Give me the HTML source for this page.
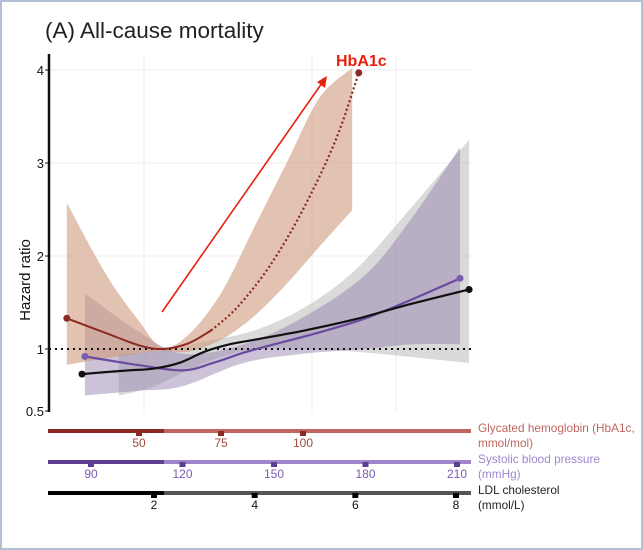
<!DOCTYPE html>
<html><head><meta charset="utf-8"><style>
body{margin:0;background:#fff;}
svg{display:block;font-family:"Liberation Sans",sans-serif;}
</style></head><body>
<svg id="c" width="643" height="550" viewBox="0 0 643 550">
<rect x="1" y="1" width="641" height="548" fill="#fff" stroke="#b4bfd6" stroke-width="2"/>
<text x="45" y="38" font-size="22.5" fill="#222">(A) All-cause mortality</text>
<text transform="translate(30,280) rotate(-90)" text-anchor="middle" font-size="15" fill="#111">Hazard ratio</text>
<g id="grid"></g>
<g id="bands"></g>
<g id="lines"></g>
<g id="axes"></g>
<line x1="162" y1="312" x2="322" y2="83" stroke="#e8200c" stroke-width="1.6"/>
<polygon points="327,76 317,82 325,88" fill="#e8200c"/>
<text x="336" y="66" font-size="16" font-weight="bold" fill="#e8200c">HbA1c</text>
</svg>
<script>
const hrTicks=[1,2,3,4];
const hbaVals=[28,40,50,57,65,72,80,90,100,110,117];
const hbaHR=[1.33,1.17,1.04,1.0,1.06,1.2,1.45,1.9,2.5,3.25,3.97];
const hbaBandX=[28,40,50,57,65,75,85,95,105,115];
const hbaUpper=[2.57,1.8,1.3,1.02,1.15,1.6,2.3,3.0,3.7,4.5];
const hbaLower=[0.83,0.9,0.95,0.98,0.97,1.1,1.35,1.7,2.1,2.49];
const sbpVals=[88,105,120,130,140,150,165,180,195,211];
const sbpHR=[0.92,0.83,0.77,0.85,0.96,1.05,1.18,1.33,1.53,1.76];
const sbpBandX=[88,105,120,140,160,180,195,211];
const sbpUpper=[1.6,1.2,0.95,1.05,1.35,1.8,2.4,3.17];
const sbpLower=[0.5,0.55,0.6,0.85,0.95,1.0,1.05,1.05];
const ldlVals=[0.57,1,1.5,2,2.5,3,3.5,4,5,6,7,8.26];
const ldlHR=[0.73,0.75,0.77,0.79,0.85,0.97,1.05,1.1,1.2,1.32,1.47,1.64];
const ldlBandX=[1.3,2,3,4,5,6,7,8.26];
const ldlUpper=[0.95,0.97,1.08,1.2,1.45,1.85,2.45,3.25];
const ldlLower=[0.5,0.6,0.85,1.0,1.0,0.97,0.92,0.85];
const hbaTicks=[50,75,100];
const sbpTicks=[90,120,150,180,210];
const ldlTicks=[2,4,6,8];

const NS="http://www.w3.org/2000/svg";
const yS=v=>349-(v-1)*93;
const xH=v=>139+(v-50)*82/25;
const xS=v=>91+(v-90)*366/120;
const xL=v=>154+(v-2)*302/6;
function mk(tag,at,par){const e=document.createElementNS(NS,tag);for(const k in at)e.setAttribute(k,at[k]);document.getElementById(par).appendChild(e);return e;}
function smooth(p){let d="M"+p[0][0]+","+p[0][1];for(let i=0;i<p.length-1;i++){const p0=p[i-1]||p[i],p1=p[i],p2=p[i+1],p3=p[i+2]||p2;d+=" C"+(p1[0]+(p2[0]-p0[0])/6)+","+(p1[1]+(p2[1]-p0[1])/6)+" "+(p2[0]-(p3[0]-p1[0])/6)+","+(p2[1]-(p3[1]-p1[1])/6)+" "+p2[0]+","+p2[1];}return d;}
function bandPath(xs,up,lo,fx){const u=xs.map((x,i)=>[fx(x),Math.max(68,yS(up[i]))]);const l=xs.map((x,i)=>[fx(x),Math.min(412,yS(lo[i]))]).reverse();let d=smooth(u);d+=" L"+l[0][0]+","+l[0][1]+smooth(l).replace(/^M[^ ]+/,"")+" Z";return d;}

[144,312,396].forEach(x=>{const g=mk('line',{x1:x,y1:55,x2:x,y2:412,stroke:'#ececec','stroke-width':1},'grid');

});
hrTicks.forEach(t=>{const g=mk('line',{x1:49,y1:yS(t),x2:472,y2:yS(t),stroke:'#ececec'},'grid');

});

let b=mk('path',{d:bandPath(ldlBandX,ldlUpper,ldlLower,xL),fill:'#b8b6b6','fill-opacity':0.5},'bands');


b=mk('path',{d:bandPath(sbpBandX,sbpUpper,sbpLower,xS),fill:'#8e7bab','fill-opacity':0.45},'bands');


b=mk('path',{d:bandPath(hbaBandX,hbaUpper,hbaLower,xH),fill:'#cf9a7c','fill-opacity':0.6},'bands');



let r=mk('line',{x1:49,y1:yS(1),x2:472,y2:yS(1),stroke:'#111','stroke-width':2,'stroke-dasharray':'2,4'},'lines');



const hp=hbaVals.map((v,i)=>[xH(v),yS(hbaHR[i])]);
const split=5;
let l=mk('path',{d:smooth(hp.slice(0,split+1)),fill:'none',stroke:'#8b2a22','stroke-width':2},'lines');


l=mk('path',{d:smooth(hp.slice(split)),fill:'none',stroke:'#8b2a22','stroke-width':2.2,'stroke-dasharray':'2,2.5'},'lines');


const sp=sbpVals.map((v,i)=>[xS(v),yS(sbpHR[i])]);
l=mk('path',{d:smooth(sp),fill:'none',stroke:'#6a4ba0','stroke-width':2.2},'lines');


const lp=ldlVals.map((v,i)=>[xL(v),yS(ldlHR[i])]);
l=mk('path',{d:smooth(lp),fill:'none',stroke:'#111','stroke-width':2.2},'lines');


[[hp,'#8b2a22','hba1c'],[sp,'#7a5cb3','sbp'],[lp,'#111','ldl']].forEach(([p,c,n])=>{[p[0],p[p.length-1]].forEach(q=>{const d=mk('circle',{cx:q[0],cy:q[1],r:3.5,fill:c},'lines');

});});

let a=mk('line',{x1:49,y1:54,x2:49,y2:412,stroke:'#111','stroke-width':2.5},'axes');


hrTicks.concat([0.5]).forEach(t=>{const y=t===0.5?411:yS(t);const tk=mk('line',{x1:45,y1:y,x2:49,y2:y,stroke:'#111'},'axes');


const tx=mk('text',{x:44,y:y+5,'text-anchor':'end','font-size':13,fill:'#111'},'axes');tx.textContent=String(t);

});

function xaxis(y,ticks,fx,dark,light,tcol,lbl1,lbl2,lcol,name){
 let e=mk('line',{x1:48,y1:y,x2:471,y2:y,stroke:light,'stroke-width':4},'axes');
 
 
 e=mk('line',{x1:48,y1:y,x2:164,y2:y,stroke:dark,'stroke-width':4},'axes');
 
 
 ticks.forEach(t=>{const x=fx(t);const k=mk('rect',{x:x-3,y:y,width:6,height:5,fill:dark},'axes');
 
 
 const tx=mk('text',{x:x,y:y+16,'text-anchor':'middle','font-size':12,fill:tcol},'axes');tx.textContent=String(t);
 
 });
 [lbl1,lbl2].forEach((s,i)=>{const tx=mk('text',{x:478,y:y+1+i*15,'font-size':11.8,fill:lcol},'axes');tx.textContent=s;
 
 });
}
xaxis(431,hbaTicks,xH,'#8b2a22','#c0675f','#a04a40','Glycated hemoglobin (HbA1c,','mmol/mol)','#c0675f','hba1c');
xaxis(462,sbpTicks,xS,'#5e3d94','#9f86cc','#7a5cb3','Systolic blood pressure','(mmHg)','#9f86cc','sbp');
xaxis(493,ldlTicks,xL,'#000','#555','#111','LDL cholesterol','(mmol/L)','#222','ldl');
</script>
</body></html>
